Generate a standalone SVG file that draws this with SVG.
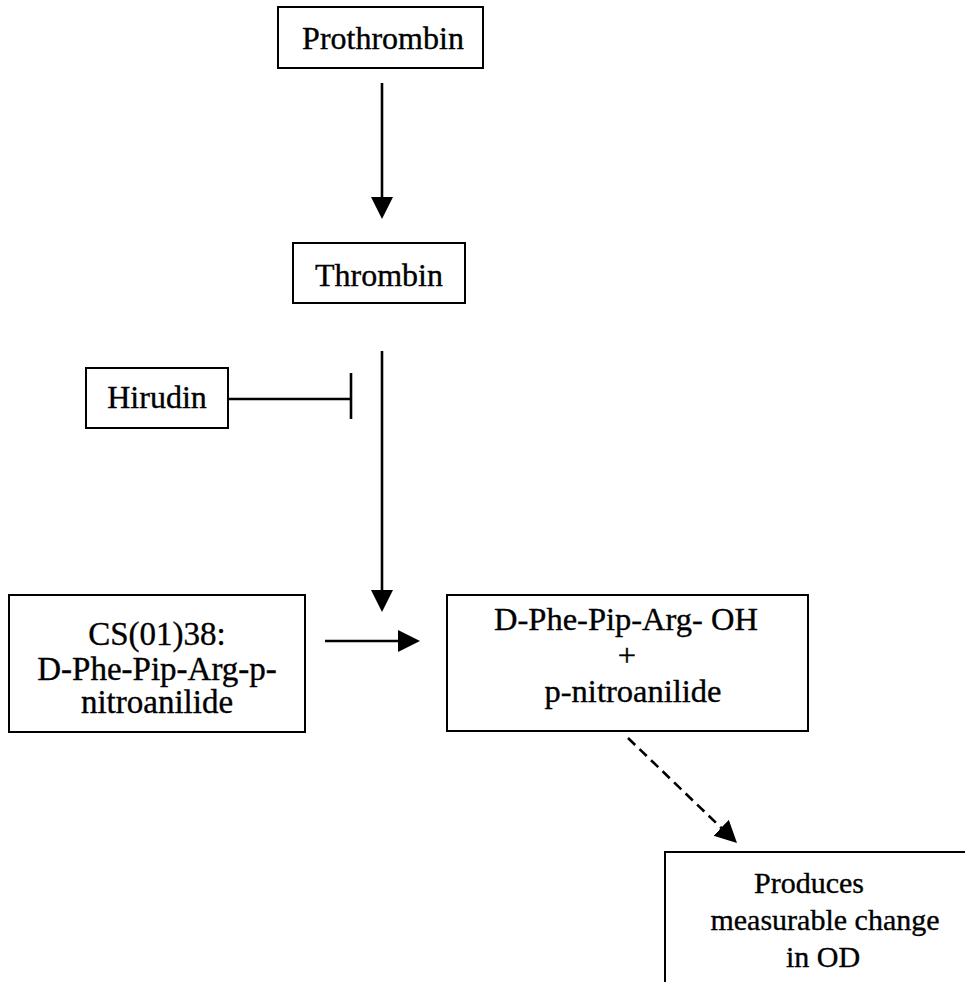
<svg xmlns="http://www.w3.org/2000/svg" width="965" height="982" viewBox="0 0 965 982">
<style>
.box{fill:#fff;stroke:#000;stroke-width:2}
.t{font-family:"Liberation Serif","Times New Roman",serif;font-size:32px;fill:#000;stroke:#000;stroke-width:0.35;text-anchor:middle}
.s33{font-size:33px}
.s325{font-size:32.5px}
.s30{font-size:30px}
.ln{stroke:#000;stroke-width:2.6;fill:none}
.dash{stroke-dasharray:10 6}
</style>
<defs>
<marker id="ah" markerUnits="userSpaceOnUse" markerWidth="24" markerHeight="24" refX="12" refY="11" orient="auto">
<path d="M0,0 L22,11 L0,22 z" fill="#000"/>
</marker>
</defs>
<rect width="965" height="982" fill="#fff"/>
<g id="connectors">
<line class="ln" x1="382" y1="83" x2="382" y2="209" marker-end="url(#ah)"/>
<line class="ln" x1="382" y1="351" x2="382" y2="602" marker-end="url(#ah)"/>
<line class="ln" x1="228" y1="399" x2="351" y2="399"/>
<line class="ln" x1="351" y1="373" x2="351" y2="419" stroke-width="3"/>
<line class="ln" x1="325" y1="641" x2="410" y2="641" marker-end="url(#ah)"/>
<line class="ln dash" x1="628" y1="738" x2="729.8" y2="836.1" marker-end="url(#ah)"/>
</g>
<g id="prothrombin">
<rect class="box" x="278" y="7" width="205" height="61"/>
<text class="t" x="383" y="49">Prothrombin</text>
</g>
<g id="thrombin">
<rect class="box" x="293" y="243" width="172" height="60"/>
<text class="t" x="379" y="286">Thrombin</text>
</g>
<g id="hirudin">
<rect class="box" x="86" y="368" width="142" height="60"/>
<text class="t" x="157" y="408">Hirudin</text>
</g>
<g id="substrate">
<rect class="box" x="9" y="595" width="296" height="137"/>
<text class="t s33" x="157" y="645">CS(01)38:</text>
<text class="t s33" x="157" y="680">D-Phe-Pip-Arg-p-</text>
<text class="t s33" x="157" y="713">nitroanilide</text>
</g>
<g id="products">
<rect class="box" x="447" y="595" width="361" height="136"/>
<text class="t s325" x="626" y="630">D-Phe-Pip-Arg- OH</text>
<text class="t s325" x="627" y="666">+</text>
<text class="t s325" x="633" y="702">p-nitroanilide</text>
</g>
<g id="produces">
<rect class="box" x="665" y="852" width="400" height="200"/>
<text class="t s30" x="809" y="893">Produces</text>
<text class="t s30" x="825" y="930">measurable change</text>
<text class="t s30" x="823" y="967">in OD</text>
</g>
</svg>
